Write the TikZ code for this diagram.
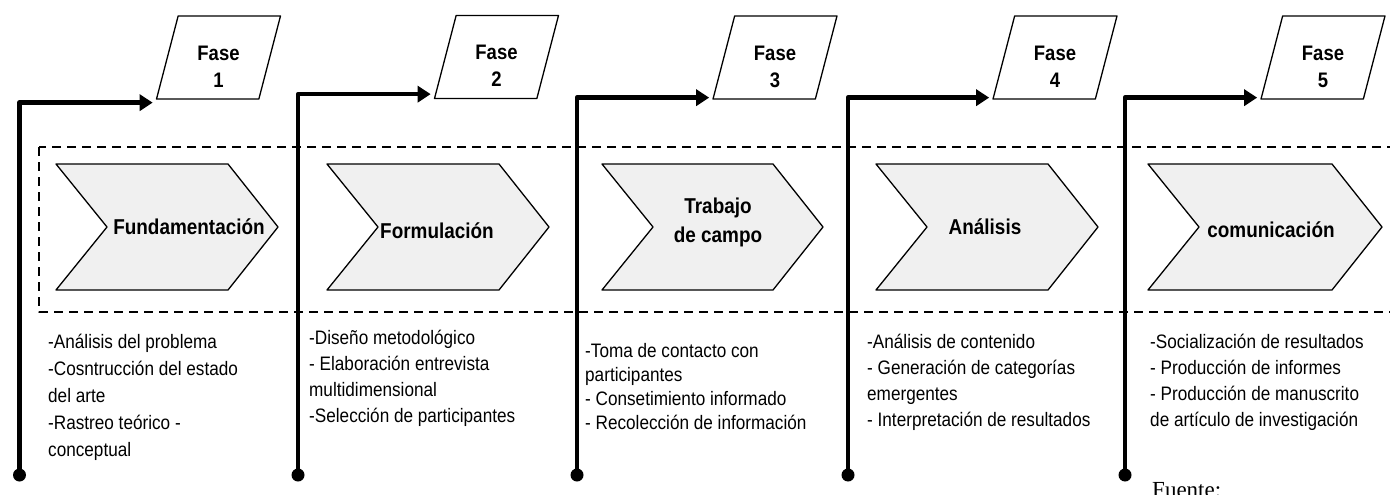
\documentclass[tikz,border=0pt]{standalone}
\usepackage{fontspec}
\setmainfont{Liberation Sans}[FakeStretch=0.88]
\newfontfamily\fuentefont{Liberation Serif}
\usetikzlibrary{arrows.meta,shapes.geometric}

\tikzset{
  fase/.style={trapezium, trapezium left angle=75, trapezium right angle=105,
    trapezium stretches=true, draw, line width=1.3pt, fill=white,
    minimum width=124pt, minimum height=83pt, inner sep=2pt},
  fasetxt/.style={align=center, inner sep=0pt, font=\fontsize{21}{27}\selectfont\bfseries},
  flecha/.style={line width=4.5pt, -{Triangle[length=13pt,width=16pt]}, shorten >=3pt},
  chevron/.style={draw, line width=1.3pt, fill=gray!12},
  etapa/.style={align=center, inner sep=0pt, font=\fontsize{21.5}{29}\selectfont\bfseries},
  lista/.style={anchor=base west, inner sep=0pt, align=left, font=\fontsize{19.5}{26}\selectfont},
  marco/.style={dashed, dash pattern=on 9pt off 6pt, line width=1.4pt},
}

\begin{document}
\begin{tikzpicture}[x=1pt, y=-1pt, line join=round]
\useasboundingbox (0,0) rectangle (1390,495);
% marco punteado
\draw[marco] (39,147) rectangle (1400,312);
% etapas
\foreach \l/\w in {56/172,327/172,602/171,876/172,1148/184}{
  \draw[chevron] (\l,164) -- ++(\w,0) -- ++(50,63) -- ++(-50,63) -- ++(-\w,0) -- ++(51,-63) -- cycle;}
\node[etapa] (e1) at (189,227) {Fundamentación};
\node[etapa] (e2) at (437,231) {Formulación};
\node[etapa] (e3) at (718,222) {Trabajo\\de campo};
\node[etapa] (e4) at (985,227) {Análisis};
\node[etapa] (e5) at (1271,230) {comunicación};
% fases
\node[fase] (f1) at (218.5,57.5) {};
\node[fase] (f2) at (496.5,57) {};
\node[fase] (f3) at (775,57.5) {};
\node[fase] (f4) at (1055,57.5) {};
\node[fase] (f5) at (1323,57.5) {};
\foreach \i in {1,...,5}{\node[fasetxt] (t\i) at ([yshift=-9pt]f\i.center) {Fase\\\i};}
% lineas y puntos
\path (19.5,475) coordinate (p1) (298,475) coordinate (p2) (577,475) coordinate (p3)
  (848,475) coordinate (p4) (1125,475) coordinate (p5);
\foreach \i/\s in {1/-3,2/5,3/2,4/2,5/2}{
  \draw[flecha] (p\i) |- ([yshift=\s pt]f\i.bottom left corner);
  \fill (p\i) circle (6.5pt);}
% actividades (base = ultima linea)
\node[lista, font=\fontsize{19.5}{27}\selectfont] (l1) at (48,456) {-Análisis del problema\\-Cosntrucción del estado\\del arte\\-Rastreo teórico -\\conceptual};
\node[lista] (l2) at (309,422) {-Diseño metodológico\\- Elaboración entrevista\\multidimensional\\-Selección de participantes};
\node[lista, font=\fontsize{19.5}{24}\selectfont] (l3) at (585,429) {-Toma de contacto con\\participantes\\- Consetimiento informado\\- Recolección de información};
\node[lista] (l4) at (867,426) {-Análisis de contenido\\- Generación de categorías\\emergentes\\- Interpretación de resultados};
\node[lista] (l5) at (1150,426) {-Socialización de resultados\\- Producción de informes\\- Producción de manuscrito\\de artículo de investigación};
\node[anchor=base west, inner sep=0pt, font=\fuentefont\fontsize{23}{27}\selectfont] (fu) at (1152,497) {Fuente:};
\end{tikzpicture}
\end{document}
